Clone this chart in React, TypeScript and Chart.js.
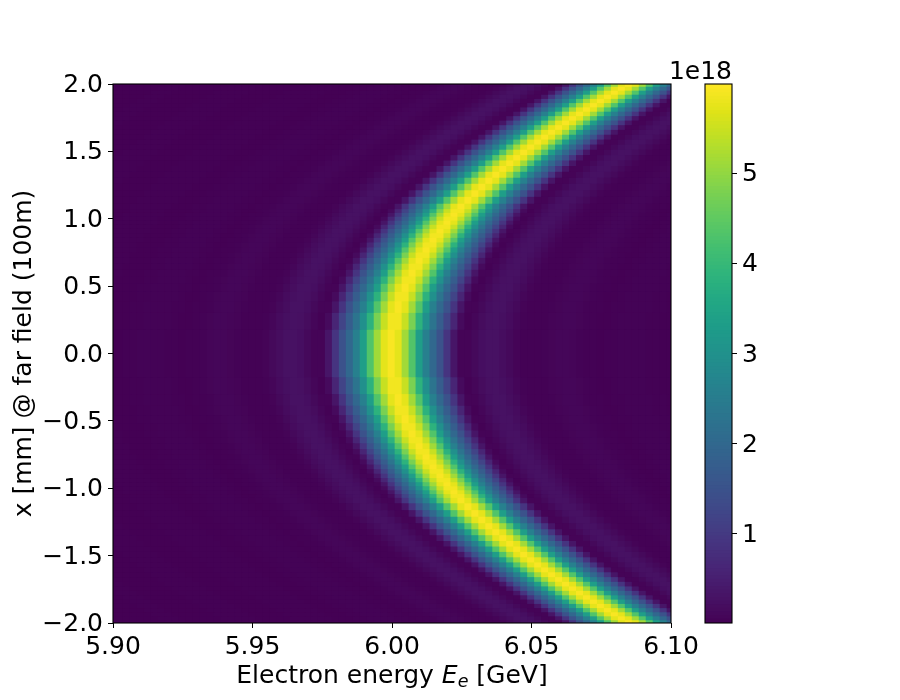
import React, { useEffect, useRef } from "react";
import { Chart, registerables } from "chart.js";
Chart.register(...registerables);

const FONT = "'DejaVu Sans'";
const xTicks = [5.9, 5.95, 6.0, 6.05, 6.1];
const yTicks = [-2, -1.5, -1, -0.5, 0, 0.5, 1, 1.5, 2];
const cbarTicks = [1, 2, 3, 4, 5];
const energyStart = 5.9;
const energyStep = 0.0025;
const cbarMin = 1;
const cbarMax = 599;
const yTitle = "x [mm] @ far field (100m)";
const cbarOffset = "1e18";
const viridis = ["#440154","#471365","#482475","#463480","#414487","#3b528b","#355f8d","#2f6c8e","#2a788e","#25848e","#21918c","#1e9c89","#22a884","#2fb47c","#44bf70","#5ec962","#7ad151","#9bd93c","#bddf26","#dfe318","#fde725"];

// Upper edge (mm) of each row band, y = 0 outwards.
const rowEdges = [0.17,0.295,0.381,0.451,0.511,0.565,0.615,0.66,0.703,0.743,0.781,0.818,0.852,0.886,0.918,0.949,0.979,1.009,1.037,1.065,1.105,1.156,1.205,1.253,1.298,1.342,1.385,1.426,1.466,1.506,1.544,1.581,1.617,1.653,1.688,1.722,1.755,1.788,1.82,1.852,1.883,1.914,1.944,1.973,2.0];

// Intensity, in 1e16 units, per 0.0025 GeV column from 5.90 to 6.10.
const row00 = [1,1,2,3,4,5,5,4,3,2,1,2,3,5,8,10,9,7,4,2,2,3,6,14,21,27,28,23,14,6,6,35,90,150,200,260,335,435,515,575,595,575,515,435,335,260,200,150,90,35,6,6,14,23,28,27,21,14,6,3,2,2,4,7,9,10,8,5,3,2,1,2,3,4,5,5,4,3,2,1,1];
const half00 = [1,1,1,2,3,4,5,5,4,2,1,1,2,4,7,9,10,8,6,3,2,2,4,10,18,24,28,26,19,10,3,16,62,120,175,230,298,385,478,548,588,588,548,478,385,298,230,175,120,62,16,3,10,19,26,28,24,18,10,4,2,2,3,6,8,10,9,7,4,2,1,1,2,4,5,5,4,3,2,1,1];
const row01 = [1,1,1,2,3,4,5,5,4,3,2,1,2,3,5,8,10,9,7,4,2,2,3,6,14,21,27,28,23,14,6,6,35,90,150,200,260,335,435,515,575,595,575,515,435,335,260,200,150,90,35,6,6,14,23,28,27,21,14,6,3,2,2,4,7,9,10,8,5,3,2,1,2,3,4,5,5,4,3,2,1];
const half01 = [1,1,1,1,2,3,4,5,5,4,2,1,1,2,4,7,9,10,8,6,3,2,2,4,10,18,24,28,26,19,10,3,16,62,120,175,230,298,385,478,548,588,588,548,478,385,298,230,175,120,62,16,3,10,19,26,28,24,18,10,4,2,2,3,6,8,10,9,7,4,2,1,1,2,4,5,5,4,3,2,1];
const row02 = [2,1,1,1,2,3,4,5,5,4,3,2,1,2,3,5,8,10,9,7,4,2,2,3,6,14,21,27,28,23,14,6,6,35,90,150,200,260,335,435,515,575,595,575,515,435,335,260,200,150,90,35,6,6,14,23,28,27,21,14,6,3,2,2,4,7,9,10,8,5,3,2,1,2,3,4,5,5,4,3,2];
const half02 = [2,1,1,1,1,2,3,4,5,5,4,2,1,1,2,4,7,9,10,8,6,3,2,2,4,10,18,24,28,26,19,10,3,16,62,120,175,230,298,385,478,548,588,588,548,478,385,298,230,175,120,62,16,3,10,19,26,28,24,18,10,4,2,2,3,6,8,10,9,7,4,2,1,1,2,4,5,5,4,3,2];
const row03 = [2,2,1,1,1,2,3,4,5,5,4,3,2,1,2,3,5,8,10,9,7,4,2,2,3,6,14,21,27,28,23,14,6,6,35,90,150,200,260,335,435,515,575,595,575,515,435,335,260,200,150,90,35,6,6,14,23,28,27,21,14,6,3,2,2,4,7,9,10,8,5,3,2,1,2,3,4,5,5,4,3];
const half03 = [3,2,1,1,1,1,2,3,4,5,5,4,2,1,1,2,4,7,9,10,8,6,3,2,2,4,10,18,24,28,26,19,10,3,16,62,120,175,230,298,385,478,548,588,588,548,478,385,298,230,175,120,62,16,3,10,19,26,28,24,18,10,4,2,2,3,6,8,10,9,7,4,2,1,1,2,4,5,5,4,3];
const row04 = [3,2,2,1,1,1,2,3,4,5,5,4,3,2,1,2,3,5,8,10,9,7,4,2,2,3,6,14,21,27,28,23,14,6,6,35,90,150,200,260,335,435,515,575,595,575,515,435,335,260,200,150,90,35,6,6,14,23,28,27,21,14,6,3,2,2,4,7,9,10,8,5,3,2,1,2,3,4,5,5,4];
const half04 = [3,3,2,1,1,1,1,2,3,4,5,5,4,2,1,1,2,4,7,9,10,8,6,3,2,2,4,10,18,24,28,26,19,10,3,16,62,120,175,230,298,385,478,548,588,588,548,478,385,298,230,175,120,62,16,3,10,19,26,28,24,18,10,4,2,2,3,6,8,10,9,7,4,2,1,1,2,4,5,5,4];
const row05 = [3,3,2,2,1,1,1,2,3,4,5,5,4,3,2,1,2,3,5,8,10,9,7,4,2,2,3,6,14,21,27,28,23,14,6,6,35,90,150,200,260,335,435,515,575,595,575,515,435,335,260,200,150,90,35,6,6,14,23,28,27,21,14,6,3,2,2,4,7,9,10,8,5,3,2,1,2,3,4,5,5];
const half05 = [3,3,3,2,1,1,1,1,2,3,4,5,5,4,2,1,1,2,4,7,9,10,8,6,3,2,2,4,10,18,24,28,26,19,10,3,16,62,120,175,230,298,385,478,548,588,588,548,478,385,298,230,175,120,62,16,3,10,19,26,28,24,18,10,4,2,2,3,6,8,10,9,7,4,2,1,1,2,4,5,5];
const row06 = [3,3,3,2,2,1,1,1,2,3,4,5,5,4,3,2,1,2,3,5,8,10,9,7,4,2,2,3,6,14,21,27,28,23,14,6,6,35,90,150,200,260,335,435,515,575,595,575,515,435,335,260,200,150,90,35,6,6,14,23,28,27,21,14,6,3,2,2,4,7,9,10,8,5,3,2,1,2,3,4,5];
const half06 = [2,3,3,3,2,1,1,1,1,2,3,4,5,5,4,2,1,1,2,4,7,9,10,8,6,3,2,2,4,10,18,24,28,26,19,10,3,16,62,120,175,230,298,385,478,548,588,588,548,478,385,298,230,175,120,62,16,3,10,19,26,28,24,18,10,4,2,2,3,6,8,10,9,7,4,2,1,1,2,4,5];
const row07 = [2,3,3,3,2,2,1,1,1,2,3,4,5,5,4,3,2,1,2,3,5,8,10,9,7,4,2,2,3,6,14,21,27,28,23,14,6,6,35,90,150,200,260,335,435,515,575,595,575,515,435,335,260,200,150,90,35,6,6,14,23,28,27,21,14,6,3,2,2,4,7,9,10,8,5,3,2,1,2,3,4];
const half07 = [1,2,3,3,3,2,1,1,1,1,2,3,4,5,5,4,2,1,1,2,4,7,9,10,8,6,3,2,2,4,10,18,24,28,26,19,10,3,16,62,120,175,230,298,385,478,548,588,588,548,478,385,298,230,175,120,62,16,3,10,19,26,28,24,18,10,4,2,2,3,6,8,10,9,7,4,2,1,1,2,4];
const row08 = [1,2,3,3,3,2,2,1,1,1,2,3,4,5,5,4,3,2,1,2,3,5,8,10,9,7,4,2,2,3,6,14,21,27,28,23,14,6,6,35,90,150,200,260,335,435,515,575,595,575,515,435,335,260,200,150,90,35,6,6,14,23,28,27,21,14,6,3,2,2,4,7,9,10,8,5,3,2,1,2,3];
const half08 = [1,1,2,3,3,3,2,1,1,1,1,2,3,4,5,5,4,2,1,1,2,4,7,9,10,8,6,3,2,2,4,10,18,24,28,26,19,10,3,16,62,120,175,230,298,385,478,548,588,588,548,478,385,298,230,175,120,62,16,3,10,19,26,28,24,18,10,4,2,2,3,6,8,10,9,7,4,2,1,1,2];
const row09 = [1,1,2,3,3,3,2,2,1,1,1,2,3,4,5,5,4,3,2,1,2,3,5,8,10,9,7,4,2,2,3,6,14,21,27,28,23,14,6,6,35,90,150,200,260,335,435,515,575,595,575,515,435,335,260,200,150,90,35,6,6,14,23,28,27,21,14,6,3,2,2,4,7,9,10,8,5,3,2,1,2];
const half09 = [1,1,1,2,3,3,3,2,1,1,1,1,2,3,4,5,5,4,2,1,1,2,4,7,9,10,8,6,3,2,2,4,10,18,24,28,26,19,10,3,16,62,120,175,230,298,385,478,548,588,588,548,478,385,298,230,175,120,62,16,3,10,19,26,28,24,18,10,4,2,2,3,6,8,10,9,7,4,2,1,1];
const row10 = [1,1,1,2,3,3,3,2,2,1,1,1,2,3,4,5,5,4,3,2,1,2,3,5,8,10,9,7,4,2,2,3,6,14,21,27,28,23,14,6,6,35,90,150,200,260,335,435,515,575,595,575,515,435,335,260,200,150,90,35,6,6,14,23,28,27,21,14,6,3,2,2,4,7,9,10,8,5,3,2,1];
const row11 = [1,1,1,1,2,3,3,3,2,2,1,1,1,2,3,4,5,5,4,3,2,1,2,3,5,8,10,9,7,4,2,2,3,6,14,21,27,28,23,14,6,6,35,90,150,200,260,335,435,515,575,595,575,515,435,335,260,200,150,90,35,6,6,14,23,28,27,21,14,6,3,2,2,4,7,9,10,8,5,3,2];
const row12 = [1,1,1,1,1,2,3,3,3,2,2,1,1,1,2,3,4,5,5,4,3,2,1,2,3,5,8,10,9,7,4,2,2,3,6,14,21,27,28,23,14,6,6,35,90,150,200,260,335,435,515,575,595,575,515,435,335,260,200,150,90,35,6,6,14,23,28,27,21,14,6,3,2,2,4,7,9,10,8,5,3];
const row13 = [2,1,1,1,1,1,2,3,3,3,2,2,1,1,1,2,3,4,5,5,4,3,2,1,2,3,5,8,10,9,7,4,2,2,3,6,14,21,27,28,23,14,6,6,35,90,150,200,260,335,435,515,575,595,575,515,435,335,260,200,150,90,35,6,6,14,23,28,27,21,14,6,3,2,2,4,7,9,10,8,5];
const row14 = [2,2,1,1,1,1,1,2,3,3,3,2,2,1,1,1,2,3,4,5,5,4,3,2,1,2,3,5,8,10,9,7,4,2,2,3,6,14,21,27,28,23,14,6,6,35,90,150,200,260,335,435,515,575,595,575,515,435,335,260,200,150,90,35,6,6,14,23,28,27,21,14,6,3,2,2,4,7,9,10,8];
const row15 = [2,2,2,1,1,1,1,1,2,3,3,3,2,2,1,1,1,2,3,4,5,5,4,3,2,1,2,3,5,8,10,9,7,4,2,2,3,6,14,21,27,28,23,14,6,6,35,90,150,200,260,335,435,515,575,595,575,515,435,335,260,200,150,90,35,6,6,14,23,28,27,21,14,6,3,2,2,4,7,9,10];
const row16 = [2,2,2,2,1,1,1,1,1,2,3,3,3,2,2,1,1,1,2,3,4,5,5,4,3,2,1,2,3,5,8,10,9,7,4,2,2,3,6,14,21,27,28,23,14,6,6,35,90,150,200,260,335,435,515,575,595,575,515,435,335,260,200,150,90,35,6,6,14,23,28,27,21,14,6,3,2,2,4,7,9];
const row17 = [2,2,2,2,2,1,1,1,1,1,2,3,3,3,2,2,1,1,1,2,3,4,5,5,4,3,2,1,2,3,5,8,10,9,7,4,2,2,3,6,14,21,27,28,23,14,6,6,35,90,150,200,260,335,435,515,575,595,575,515,435,335,260,200,150,90,35,6,6,14,23,28,27,21,14,6,3,2,2,4,7];
const row18 = [1,2,2,2,2,2,1,1,1,1,1,2,3,3,3,2,2,1,1,1,2,3,4,5,5,4,3,2,1,2,3,5,8,10,9,7,4,2,2,3,6,14,21,27,28,23,14,6,6,35,90,150,200,260,335,435,515,575,595,575,515,435,335,260,200,150,90,35,6,6,14,23,28,27,21,14,6,3,2,2,4];
const row19 = [1,1,2,2,2,2,2,1,1,1,1,1,2,3,3,3,2,2,1,1,1,2,3,4,5,5,4,3,2,1,2,3,5,8,10,9,7,4,2,2,3,6,14,21,27,28,23,14,6,6,35,90,150,200,260,335,435,515,575,595,575,515,435,335,260,200,150,90,35,6,6,14,23,28,27,21,14,6,3,2,2];
const row20 = [1,1,1,2,2,2,2,2,1,1,1,1,1,2,3,3,3,2,2,1,1,1,2,3,4,5,5,4,3,2,1,2,3,5,8,10,9,7,4,2,2,3,6,14,21,27,28,23,14,6,6,35,90,150,200,260,335,435,515,575,595,575,515,435,335,260,200,150,90,35,6,6,14,23,28,27,21,14,6,3,2];
const row21 = [1,1,1,1,2,2,2,2,2,1,1,1,1,1,2,3,3,3,2,2,1,1,1,2,3,4,5,5,4,3,2,1,2,3,5,8,10,9,7,4,2,2,3,6,14,21,27,28,23,14,6,6,35,90,150,200,260,335,435,515,575,595,575,515,435,335,260,200,150,90,35,6,6,14,23,28,27,21,14,6,3];
const row22 = [1,1,1,1,1,2,2,2,2,2,1,1,1,1,1,2,3,3,3,2,2,1,1,1,2,3,4,5,5,4,3,2,1,2,3,5,8,10,9,7,4,2,2,3,6,14,21,27,28,23,14,6,6,35,90,150,200,260,335,435,515,575,595,575,515,435,335,260,200,150,90,35,6,6,14,23,28,27,21,14,6];
const row23 = [1,1,1,1,1,1,2,2,2,2,2,1,1,1,1,1,2,3,3,3,2,2,1,1,1,2,3,4,5,5,4,3,2,1,2,3,5,8,10,9,7,4,2,2,3,6,14,21,27,28,23,14,6,6,35,90,150,200,260,335,435,515,575,595,575,515,435,335,260,200,150,90,35,6,6,14,23,28,27,21,14];
const row24 = [2,1,1,1,1,1,1,2,2,2,2,2,1,1,1,1,1,2,3,3,3,2,2,1,1,1,2,3,4,5,5,4,3,2,1,2,3,5,8,10,9,7,4,2,2,3,6,14,21,27,28,23,14,6,6,35,90,150,200,260,335,435,515,575,595,575,515,435,335,260,200,150,90,35,6,6,14,23,28,27,21];
const row25 = [2,2,1,1,1,1,1,1,2,2,2,2,2,1,1,1,1,1,2,3,3,3,2,2,1,1,1,2,3,4,5,5,4,3,2,1,2,3,5,8,10,9,7,4,2,2,3,6,14,21,27,28,23,14,6,6,35,90,150,200,260,335,435,515,575,595,575,515,435,335,260,200,150,90,35,6,6,14,23,28,27];
const row26 = [2,2,2,1,1,1,1,1,1,2,2,2,2,2,1,1,1,1,1,2,3,3,3,2,2,1,1,1,2,3,4,5,5,4,3,2,1,2,3,5,8,10,9,7,4,2,2,3,6,14,21,27,28,23,14,6,6,35,90,150,200,260,335,435,515,575,595,575,515,435,335,260,200,150,90,35,6,6,14,23,28];
const row27 = [1,2,2,2,1,1,1,1,1,1,2,2,2,2,2,1,1,1,1,1,2,3,3,3,2,2,1,1,1,2,3,4,5,5,4,3,2,1,2,3,5,8,10,9,7,4,2,2,3,6,14,21,27,28,23,14,6,6,35,90,150,200,260,335,435,515,575,595,575,515,435,335,260,200,150,90,35,6,6,14,23];
const row28 = [1,1,2,2,2,1,1,1,1,1,1,2,2,2,2,2,1,1,1,1,1,2,3,3,3,2,2,1,1,1,2,3,4,5,5,4,3,2,1,2,3,5,8,10,9,7,4,2,2,3,6,14,21,27,28,23,14,6,6,35,90,150,200,260,335,435,515,575,595,575,515,435,335,260,200,150,90,35,6,6,14];
const row29 = [1,1,1,2,2,2,1,1,1,1,1,1,2,2,2,2,2,1,1,1,1,1,2,3,3,3,2,2,1,1,1,2,3,4,5,5,4,3,2,1,2,3,5,8,10,9,7,4,2,2,3,6,14,21,27,28,23,14,6,6,35,90,150,200,260,335,435,515,575,595,575,515,435,335,260,200,150,90,35,6,6];
const row30 = [1,1,1,1,2,2,2,1,1,1,1,1,1,2,2,2,2,2,1,1,1,1,1,2,3,3,3,2,2,1,1,1,2,3,4,5,5,4,3,2,1,2,3,5,8,10,9,7,4,2,2,3,6,14,21,27,28,23,14,6,6,35,90,150,200,260,335,435,515,575,595,575,515,435,335,260,200,150,90,35,6];
const row31 = [1,1,1,1,1,2,2,2,1,1,1,1,1,1,2,2,2,2,2,1,1,1,1,1,2,3,3,3,2,2,1,1,1,2,3,4,5,5,4,3,2,1,2,3,5,8,10,9,7,4,2,2,3,6,14,21,27,28,23,14,6,6,35,90,150,200,260,335,435,515,575,595,575,515,435,335,260,200,150,90,35];
const row32 = [1,1,1,1,1,1,2,2,2,1,1,1,1,1,1,2,2,2,2,2,1,1,1,1,1,2,3,3,3,2,2,1,1,1,2,3,4,5,5,4,3,2,1,2,3,5,8,10,9,7,4,2,2,3,6,14,21,27,28,23,14,6,6,35,90,150,200,260,335,435,515,575,595,575,515,435,335,260,200,150,90];
const row33 = [1,1,1,1,1,1,1,2,2,2,1,1,1,1,1,1,2,2,2,2,2,1,1,1,1,1,2,3,3,3,2,2,1,1,1,2,3,4,5,5,4,3,2,1,2,3,5,8,10,9,7,4,2,2,3,6,14,21,27,28,23,14,6,6,35,90,150,200,260,335,435,515,575,595,575,515,435,335,260,200,150];
const row34 = [1,1,1,1,1,1,1,1,2,2,2,1,1,1,1,1,1,2,2,2,2,2,1,1,1,1,1,2,3,3,3,2,2,1,1,1,2,3,4,5,5,4,3,2,1,2,3,5,8,10,9,7,4,2,2,3,6,14,21,27,28,23,14,6,6,35,90,150,200,260,335,435,515,575,595,575,515,435,335,260,200];
const rows = [row00,half00,row01,half01,row02,half02,row03,half03,row04,half04,row05,half05,row06,half06,row07,half07,row08,half08,row09,half09,row10,row11,row12,row13,row14,row15,row16,row17,row18,row19,row20,row21,row22,row23,row24,row25,row26,row27,row28,row29,row30,row31,row32,row33,row34];

function colorOf(v: number) {
  const t = Math.max(0, Math.min(1, (v - cbarMin) / (cbarMax - cbarMin))) * (viridis.length - 1);
  const i = Math.min(viridis.length - 2, Math.floor(t));
  const f = t - i;
  const p = (s: string, a: number) => parseInt(s.slice(a, a + 2), 16);
  const a = viridis[i], b = viridis[i + 1];
  const m = (o: number) => Math.round(p(a, o) + (p(b, o) - p(a, o)) * f);
  return `rgb(${m(1)},${m(3)},${m(5)})`;
}

const CELL_PAD = 0.004;
function makeBand(lo: number, hi: number, vals: number[]) {
  return {
    data: vals.map((_, c) => ({ x: energyStart + c * energyStep, y: [lo - CELL_PAD, hi + CELL_PAD] })),
    backgroundColor: vals.map(colorOf),
    borderWidth: 0,
    barThickness: 8,
    grouped: false,
  };
}

const frame = {
  id: "frame",
  afterDraw(chart: any) {
    const { ctx, chartArea: a } = chart;
    ctx.save();
    ctx.strokeStyle = "#000";
    ctx.lineWidth = 1.1;
    ctx.strokeRect(a.left, a.top, a.right - a.left, a.bottom - a.top);
    ctx.restore();
  },
};

const xTitlePlugin = {
  id: "xTitle",
  afterDraw(chart: any) {
    const { ctx, chartArea: a } = chart;
    const parts = [
      { t: "Electron energy ", f: `25px ${FONT}`, dy: 0 },
      { t: "E", f: `italic 25px ${FONT}`, dy: 0 },
      { t: "e", f: `italic 17.5px ${FONT}`, dy: 4 },
      { t: " [GeV]", f: `25px ${FONT}`, dy: 0 },
    ];
    ctx.save();
    ctx.fillStyle = "#000";
    ctx.textBaseline = "alphabetic";
    ctx.textAlign = "left";
    let w = 0;
    for (const p of parts) { ctx.font = p.f; w += ctx.measureText(p.t).width; }
    let x = (a.left + a.right) / 2 - w / 2;
    for (const p of parts) {
      ctx.font = p.f;
      ctx.fillText(p.t, x, 683 + p.dy);
      x += ctx.measureText(p.t).width;
    }
    ctx.restore();
  },
};

const cbarLabel = {
  id: "cbarLabel",
  afterDraw(chart: any) {
    const { ctx, chartArea: a } = chart;
    ctx.save();
    ctx.font = `25px ${FONT}`;
    ctx.fillStyle = "#000";
    ctx.textAlign = "right";
    ctx.textBaseline = "alphabetic";
    ctx.fillText(cbarOffset, a.right, 79);
    ctx.restore();
  },
};

export default function App() {
  const mainRef = useRef<HTMLCanvasElement>(null);
  const barRef = useRef<HTMLCanvasElement>(null);
  useEffect(() => {
    const bands: any[] = [];
    rows.forEach((vals, k) => {
      const hi = rowEdges[k];
      const lo = k === 0 ? -rowEdges[0] : rowEdges[k - 1];
      bands.push(makeBand(lo, hi, vals));
      if (k > 0) bands.push(makeBand(-hi, -lo, vals));
    });
    const tickFont = { family: FONT, size: 25 };
    const main = new Chart(mainRef.current!, {
      type: "bar",
      data: { datasets: bands },
      plugins: [frame, xTitlePlugin],
      options: {
        animation: false,
        responsive: false,
        events: [],
        layout: { padding: { left: 0, top: 84, right: 229, bottom: 0 } },
        plugins: { legend: { display: false }, tooltip: { enabled: false } },
        scales: {
          x: {
            type: "linear", min: 5.9, max: 6.1, offset: false,
            afterBuildTicks: (ax: any) => { ax.ticks = xTicks.map((value) => ({ value })); },
            afterFit: (ax: any) => { ax.height = 77; },
            grid: { offset: false, drawOnChartArea: false, drawTicks: true, tickLength: 5, color: "#000" },
            border: { display: false },
            ticks: { color: "#000", font: tickFont, padding: 4, maxRotation: 0, autoSkip: false,
              callback: (v: any) => Number(v).toFixed(2) },
          },
          y: {
            type: "linear", min: -2, max: 2,
            afterBuildTicks: (ax: any) => { ax.ticks = yTicks.map((value) => ({ value })); },
            afterFit: (ax: any) => { ax.width = 113; },
            grid: { drawOnChartArea: false, drawTicks: true, tickLength: 5, color: "#000" },
            border: { display: false },
            title: { display: true, text: yTitle, color: "#000", font: tickFont, padding: { top: 9, bottom: 0 } },
            ticks: { color: "#000", font: tickFont, padding: 5, autoSkip: false, labelOffset: 1.5,
              callback: (v: any) => Number(v).toFixed(1).replace("-", "\u2212") },
          },
        },
      },
    } as any);

    const levels: number[] = [];
    for (let v = cbarMin; v <= cbarMax; v += 4) levels.push(v);
    const bar = new Chart(barRef.current!, {
      type: "bar",
      data: {
        datasets: [{
          data: levels.map((v) => ({ y: v / 100, x: [0, 1] })),
          backgroundColor: levels.map(colorOf),
          borderWidth: 0,
          barThickness: 5,
        }],
      },
      plugins: [frame, cbarLabel],
      options: {
        indexAxis: "y",
        animation: false,
        responsive: false,
        events: [],
        layout: { padding: { left: 705, top: 84, right: 0, bottom: 77 } },
        plugins: { legend: { display: false }, tooltip: { enabled: false } },
        scales: {
          x: { type: "linear", min: 0, max: 1, display: false },
          y: {
            type: "linear", position: "right", min: cbarMin / 100, max: cbarMax / 100, offset: false,
            afterBuildTicks: (ax: any) => { ax.ticks = cbarTicks.map((value) => ({ value })); },
            afterFit: (ax: any) => { ax.width = 168; },
            grid: { offset: false, drawOnChartArea: false, drawTicks: true, tickLength: 5, color: "#000" },
            border: { display: false },
            ticks: { color: "#000", font: tickFont, padding: 5, autoSkip: false, labelOffset: 1.5,
              callback: (v: any) => String(v) },
          },
        },
      },
    } as any);
    return () => { main.destroy(); bar.destroy(); };
  }, []);
  const st: React.CSSProperties = { position: "absolute", left: 0, top: 0, display: "block" };
  return (
    <div style={{ position: "absolute", left: 0, top: 0, width: 900, height: 700, background: "#fff" }}>
      <canvas ref={mainRef} width={900} height={700} style={st} />
      <canvas ref={barRef} width={900} height={700} style={st} />
    </div>
  );
}
